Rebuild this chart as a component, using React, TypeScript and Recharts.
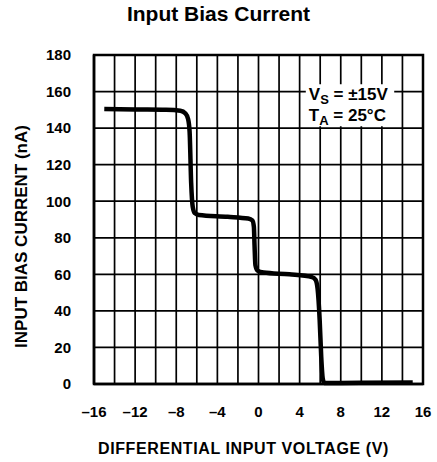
import { LineChart, Line, XAxis, YAxis, CartesianGrid, ReferenceArea } from 'recharts';

const voltage = [
  -15, -12, -9, -7.6, -7.1, -6.85, -6.7, -6.55, -6.4, -6.2, -5.8, -3, -1, -0.6, -0.45, -0.38, -0.3,
  -0.1, 0.5, 3, 5.2, 5.55, 5.75, 5.95, 6.1, 6.25, 6.4, 8, 15,
];
const biasCurrent = [
  150.5, 150.2, 150, 149.5, 148, 145, 138, 110, 97, 93.5, 92.5, 91.5, 90.5, 89.5, 86, 75, 65,
  62, 61, 60, 58.5, 57, 52, 35, 15, 3, 0.6, 0.6, 0.8,
];

const xTicks = [-16, -14, -12, -10, -8, -6, -4, -2, 0, 2, 4, 6, 8, 10, 12, 14, 16];
const yTicks = [0, 20, 40, 60, 80, 100, 120, 140, 160, 180];

const data = voltage.map((v, i) => ({ v, ib: biasCurrent[i] }));

const tickFont = { fontFamily: 'Liberation Sans', fontWeight: 700, fontSize: 15, fill: '#000' };

const fmtX = (v: number) => (v % 4 === 0 ? (v < 0 ? `\u2013${-v}` : `${v}`) : '');

export default function App() {
  return (
    <div style={{ position: 'absolute', left: 0, top: 0, width: 437, height: 462, background: '#fff' }}>
      <div
        style={{
          position: 'absolute',
          left: 0,
          width: 437,
          top: 2,
          textAlign: 'center',
          fontFamily: 'Liberation Sans, Arial, sans-serif',
          fontWeight: 700,
          fontSize: 21,
          color: '#000',
        }}
      >
        Input Bias Current
      </div>
      <LineChart width={437} height={462} data={data} margin={{ top: 55, right: 14, bottom: 38, left: 0 }}>
        <CartesianGrid stroke="#000" strokeWidth={1.7} />
        <XAxis
          dataKey="v"
          type="number"
          domain={[-16, 16]}
          ticks={xTicks}
          interval={0}
          tickFormatter={fmtX}
          tick={tickFont}
          tickLine={false}
          axisLine={{ stroke: '#000', strokeWidth: 2.5 }}
          tickMargin={16}
          height={40}
          label={{
            content: (p: any) => (
              <text
                x={p.viewBox.x + p.viewBox.width / 2 - 15}
                y={p.viewBox.y + 70}
                textAnchor="middle"
                style={{ fontFamily: 'Liberation Sans', fontWeight: 700, fontSize: 16, letterSpacing: 0.6 }}
              >
                DIFFERENTIAL INPUT VOLTAGE (V)
              </text>
            ),
          }}
        />
        <YAxis
          type="number"
          domain={[0, 180]}
          ticks={yTicks}
          interval={0}
          tick={tickFont}
          tickLine={false}
          axisLine={{ stroke: '#000', strokeWidth: 2.5 }}
          tickMargin={17}
          width={94}
          label={{
            content: (p: any) => {
              const cx = p.viewBox.x + 27;
              const cy = p.viewBox.y + p.viewBox.height / 2 + 17;
              return (
                <text
                  x={cx}
                  y={cy}
                  transform={`rotate(-90 ${cx} ${cy})`}
                  textAnchor="middle"
                  style={{ fontFamily: 'Liberation Sans', fontWeight: 700, fontSize: 17 }}
                >
                  INPUT BIAS CURRENT (nA)
                </text>
              );
            },
          }}
        />
        <ReferenceArea
          x1={-16}
          x2={16}
          y1={0}
          y2={180}
          fill="none"
          stroke="#000"
          strokeWidth={2.5}
          ifOverflow="visible"
        />
        <ReferenceArea
          x1={4.6}
          x2={13.2}
          y1={141}
          y2={164}
          fill="#fff"
          fillOpacity={1}
          stroke="none"
          label={{
            content: (p: any) => {
              const x = p.viewBox.x + 3;
              const y = p.viewBox.y;
              const st = { fontFamily: 'Liberation Sans', fontWeight: 700, fontSize: 17 };
              return (
                <g style={st}>
                  <text x={x} y={y + 16}>
                    V<tspan dy={4} fontSize={13}>S</tspan>
                    <tspan dy={-4}> = ±15V</tspan>
                  </text>
                  <text x={x} y={y + 37}>
                    T<tspan dy={4} fontSize={13}>A</tspan>
                    <tspan dy={-4}> = 25°C</tspan>
                  </text>
                </g>
              );
            },
          }}
        />
        <Line
          type="monotone"
          dataKey="ib"
          stroke="#000"
          strokeWidth={4.5}
          dot={false}
          isAnimationActive={false}
        />
      </LineChart>
    </div>
  );
}
